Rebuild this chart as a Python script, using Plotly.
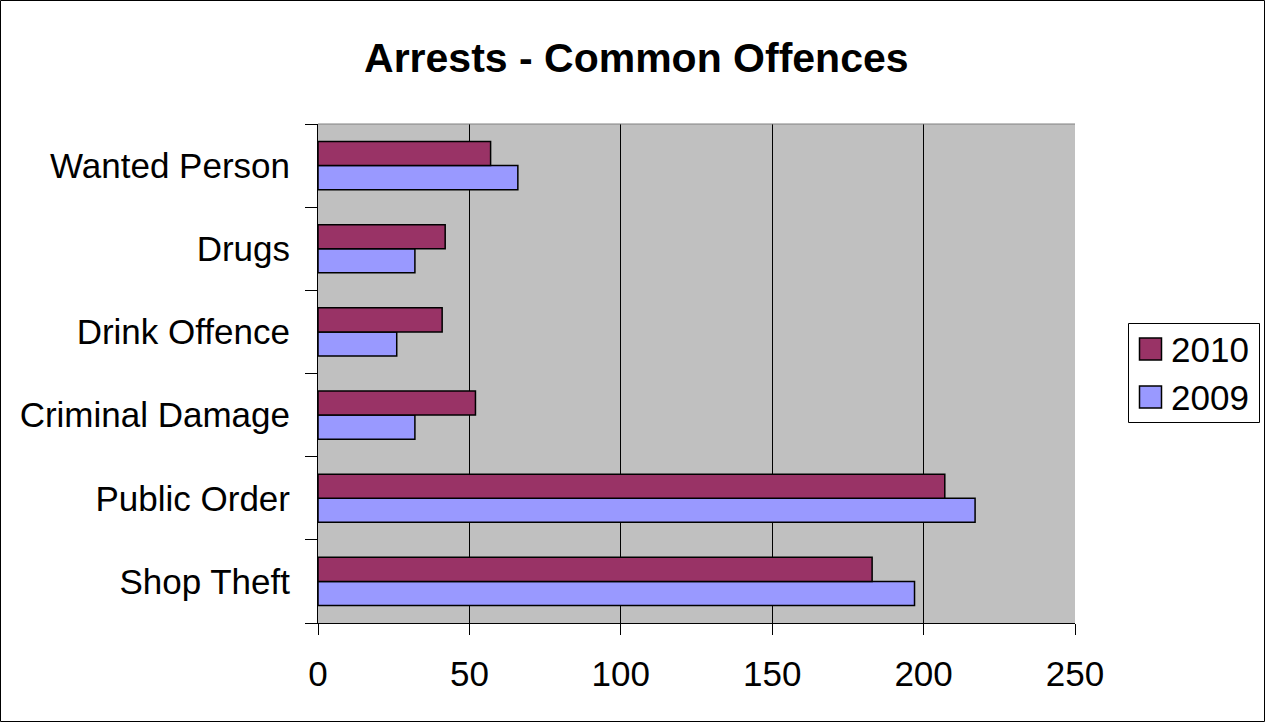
import plotly.graph_objects as go

categories = ["Shop Theft", "Public Order", "Criminal Damage", "Drink Offence", "Drugs", "Wanted Person"]
values_2009 = [197, 217, 32, 26, 32, 66]
values_2010 = [183, 207, 52, 41, 42, 57]
x_ticks = [0, 50, 100, 150, 200, 250]
series_names = ["2010", "2009"]
series_colors = ["#993366", "#9999FF"]

W, H = 1265, 722
L, R, T, B = 318, 190, 124, 99
FONT = "Arial, Liberation Sans, sans-serif"
FS = 35

fig = go.Figure()
fig.add_trace(go.Bar(
    y=categories, x=values_2009, name="2009", orientation="h",
    marker=dict(color="#9999FF", line=dict(color="#000000", width=1.5)),
    showlegend=False,
))
fig.add_trace(go.Bar(
    y=categories, x=values_2010, name="2010", orientation="h",
    marker=dict(color="#993366", line=dict(color="#000000", width=1.5)),
    showlegend=False,
))

pw = W - L - R
ph = H - T - B


def px_x(px):
    return (px - L) / pw


def px_y(py):
    return (H - B - py) / ph


# outer border
fig.add_shape(type="rect", xref="paper", yref="paper",
              x0=px_x(0.5), x1=px_x(W - 0.5), y0=px_y(H - 0.5), y1=px_y(0.5),
              line=dict(color="black", width=1), layer="below")
# plot area top border (grey)
fig.add_shape(type="line", xref="paper", yref="paper", x0=0, x1=1, y0=1, y1=1,
              line=dict(color="#808080", width=1))

# legend (custom, to match large symbols)
fig.add_shape(type="rect", xref="paper", yref="paper",
              x0=px_x(1128.5), x1=px_x(1259.5), y0=px_y(422.5), y1=px_y(323.5),
              line=dict(color="black", width=1), fillcolor="white")
for i, (nm, col) in enumerate(zip(series_names, series_colors)):
    cy = 349 + i * 48
    fig.add_shape(type="rect", xref="paper", yref="paper",
                  x0=px_x(1139.5), x1=px_x(1161.5), y0=px_y(cy + 11), y1=px_y(cy - 11),
                  line=dict(color="black", width=1.5), fillcolor=col)
    fig.add_annotation(text=nm, xref="paper", yref="paper", x=px_x(1169), y=px_y(cy),
                       xanchor="left", yanchor="middle", showarrow=False,
                       font=dict(size=FS, family=FONT, color="black"))

fig.update_layout(
    width=W, height=H,
    margin=dict(l=L, r=R, t=T, b=B, pad=0),
    paper_bgcolor="white", plot_bgcolor="#C0C0C0",
    barmode="group", bargap=0.42, bargroupgap=0,
    font=dict(family=FONT, size=FS, color="black"),
    title=dict(text="<b>Arrests - Common Offences</b>", x=0.503, xref="container",
               xanchor="center", y=1 - 58 / H, yref="container", yanchor="middle",
               font=dict(size=41, family=FONT, color="black")),
    xaxis=dict(range=[0, 250], tickvals=x_ticks, showgrid=True, gridcolor="#000000",
               gridwidth=1, zeroline=False, showline=True, linecolor="black", linewidth=1,
               ticks="outside", ticklen=11, tickcolor="black",
               tickfont=dict(size=FS, family=FONT), ticklabelstandoff=9),
    yaxis=dict(categoryorder="array", categoryarray=categories, showline=True,
               linecolor="black", linewidth=1, ticks="outside", ticklen=12,
               tickcolor="black", tickson="boundaries", showgrid=False,
               tickfont=dict(size=FS, family=FONT), ticklabelstandoff=20),
    showlegend=False,
)

fig.write_html("out.html")
